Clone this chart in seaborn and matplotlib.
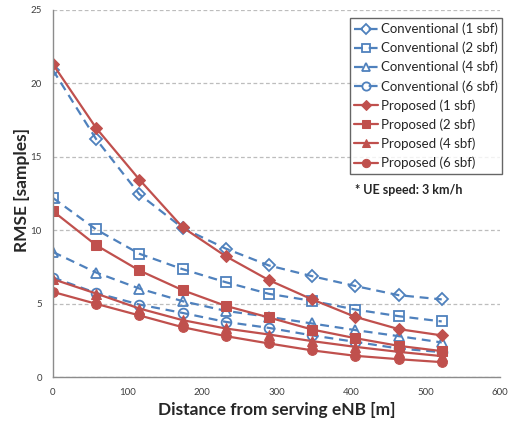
import numpy as np
import pandas as pd
import matplotlib
matplotlib.use("Agg")
import matplotlib.pyplot as plt
import seaborn as sns

distance = [0, 58, 116, 174, 232, 290, 348, 406, 464, 522]

conv_1 = [20.9, 16.2, 12.45, 10.16, 8.75, 7.6, 6.87, 6.2, 5.58, 5.29]
conv_2 = [12.2, 10.05, 8.4, 7.35, 6.46, 5.67, 5.19, 4.6, 4.15, 3.79]
conv_4 = [8.52, 7.12, 6.03, 5.17, 4.51, 4.1, 3.65, 3.2, 2.79, 2.36]
conv_6 = [6.78, 5.73, 4.94, 4.37, 3.76, 3.35, 2.84, 2.4, 1.95, 1.7]
prop_1 = [21.3, 16.96, 13.45, 10.2, 8.23, 6.6, 5.29, 4.1, 3.27, 2.84]
prop_2 = [11.3, 8.98, 7.26, 5.92, 4.85, 4.06, 3.24, 2.65, 2.13, 1.77]
prop_4 = [6.67, 5.69, 4.67, 3.88, 3.31, 2.9, 2.45, 2.06, 1.72, 1.43]
prop_6 = [5.8, 4.99, 4.2, 3.4, 2.79, 2.29, 1.82, 1.45, 1.22, 1.02]

labels = ["Conventional (1 sbf)", "Conventional (2 sbf)", "Conventional (4 sbf)",
          "Conventional (6 sbf)", "Proposed (1 sbf)", "Proposed (2 sbf)",
          "Proposed (4 sbf)", "Proposed (6 sbf)"]
series = [conv_1, conv_2, conv_4, conv_6, prop_1, prop_2, prop_4, prop_6]
markers = ["D", "s", "^", "o", "D", "s", "^", "o"]

BLUE = "#4F81BD"
RED = "#C0504D"

sns.set_style("white")
plt.rcParams["font.family"] = ["Lato", "DejaVu Sans"]

fig = plt.figure(figsize=(5.09, 4.30), dpi=100)
ax = fig.add_axes([0.104, 0.123, 0.878, 0.854])

for lab, vals, mk in zip(labels, series, markers):
    df = pd.DataFrame({"x": distance, "y": vals})
    conv = lab.startswith("Conv")
    if conv:
        sns.lineplot(data=df, x="x", y="y", ax=ax, color=BLUE, lw=1.6,
                     marker=mk, markersize=7 if mk != "D" else 6,
                     markerfacecolor="none", markeredgecolor=BLUE,
                     markeredgewidth=1.3, label=lab, dashes=False,
                     linestyle=(0, (4, 2.6)))
    else:
        sns.lineplot(data=df, x="x", y="y", ax=ax, color=RED, lw=1.6,
                     marker=mk, markersize=7 if mk != "D" else 6,
                     markerfacecolor=RED, markeredgecolor=RED,
                     label=lab)

ax.set_xlim(0, 600)
ax.set_ylim(0, 25)
ax.set_xticks(np.arange(0, 601, 100))
ax.set_yticks(np.arange(0, 26, 5))
ax.tick_params(axis="both", length=0, labelsize=7, colors="#404040", pad=8)
ax.yaxis.grid(True, linestyle=(0, (3, 2)), color="#BDBDBD", lw=0.9)
ax.xaxis.grid(False)
for s in ["top", "right"]:
    ax.spines[s].set_visible(False)
for s in ["left", "bottom"]:
    ax.spines[s].set_color("#8C8C8C")
    ax.spines[s].set_linewidth(1.0)

ax.set_xlabel("Distance from serving eNB [m]", fontsize=12.5, fontweight="bold")
ax.set_ylabel("RMSE [samples]", fontsize=12.5, fontweight="bold")
ax.xaxis.set_label_coords(0.5, -0.09)
ax.yaxis.set_label_coords(-0.07, 0.51)
ax.xaxis.label.set_va("center")
ax.yaxis.label.set_va("center")

leg = ax.legend(loc="upper right", bbox_to_anchor=(1.005, 0.978), fontsize=9.5,
                frameon=True, fancybox=False, edgecolor="#404040",
                handlelength=1.8, handletextpad=0.2, labelspacing=0.5,
                borderpad=0.35, borderaxespad=0.0, markerscale=0.85)
leg.get_frame().set_linewidth(1.0)

ax.text(0.676, 0.51, "* UE speed: 3 km/h", transform=ax.transAxes,
        fontsize=9, fontweight="bold", ha="left", va="center")

fig.savefig("out.png", dpi=100)
